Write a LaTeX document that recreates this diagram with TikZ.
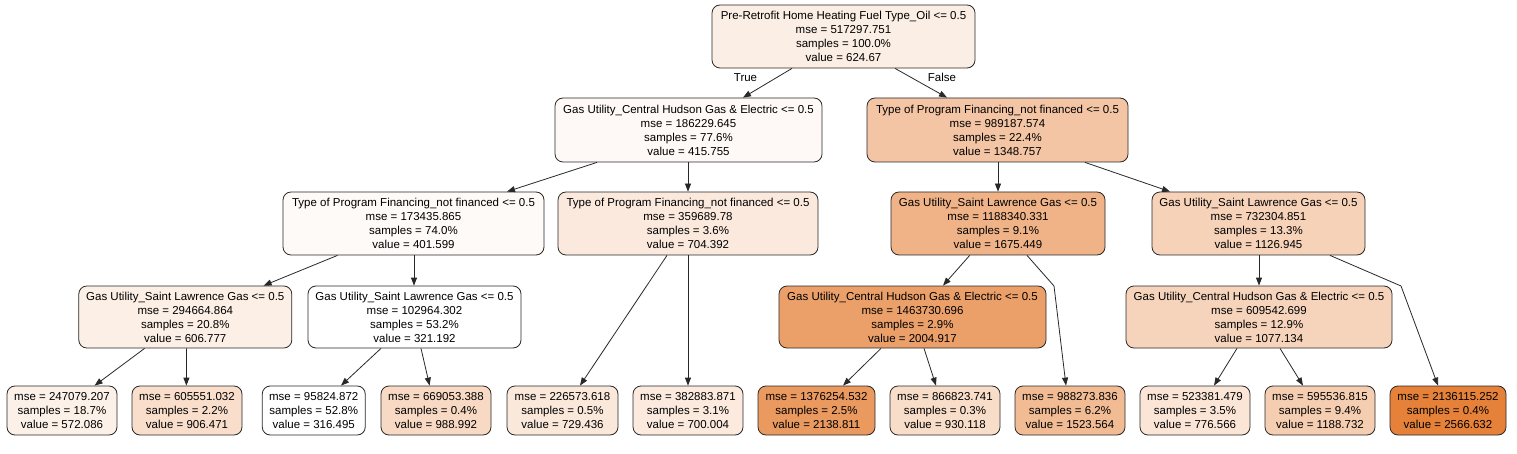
\documentclass[tikz,border=0pt]{standalone}
\usepackage{fontspec}
\setmainfont{Liberation Sans}
\usetikzlibrary{arrows.meta}
\definecolor{edgec}{RGB}{40,40,40}
\definecolor{c0}{RGB}{251,238,228}
\definecolor{c1}{RGB}{254,249,246}
\definecolor{c2}{RGB}{243,197,164}
\definecolor{c3}{RGB}{254,250,248}
\definecolor{c4}{RGB}{251,233,221}
\definecolor{c5}{RGB}{239,179,135}
\definecolor{c6}{RGB}{246,210,184}
\definecolor{c7}{RGB}{252,239,229}
\definecolor{c8}{RGB}{255,255,255}
\definecolor{c9}{RGB}{235,160,106}
\definecolor{c10}{RGB}{246,212,188}
\definecolor{c11}{RGB}{252,241,232}
\definecolor{c12}{RGB}{248,222,203}
\definecolor{c13}{RGB}{255,255,255}
\definecolor{c14}{RGB}{247,217,196}
\definecolor{c15}{RGB}{250,232,219}
\definecolor{c16}{RGB}{251,234,221}
\definecolor{c17}{RGB}{234,153,95}
\definecolor{c18}{RGB}{248,221,201}
\definecolor{c19}{RGB}{241,187,148}
\definecolor{c20}{RGB}{250,229,215}
\definecolor{c21}{RGB}{245,206,178}
\definecolor{c22}{RGB}{229,129,57}
\tikzset{
  tn/.style={draw=edgec, line width=0.8pt, rounded corners=8pt, rectangle,
    inner sep=0pt, align=center, font=\fontsize{11.5}{14}\selectfont,
    minimum height=63pt},
  lf/.style={tn, minimum height=49pt},
  ed/.style={draw=edgec, line width=0.8pt, -{Triangle[length=8pt,width=6pt]}},
  lbl/.style={font=\fontsize{11.5}{14}\selectfont, inner sep=0pt},
}
\begin{document}
\begin{tikzpicture}[x=1pt,y=-1pt]
\useasboundingbox[fill=white] (0,0) rectangle (1517,454);
% level 0
\node[tn, fill=c0, minimum width=263pt] (root) at (843.5,36.5) {Pre-Retrofit Home Heating Fuel Type\_Oil <= 0.5\\mse = 517297.751\\samples = 100.0\%\\value = 624.67};
% level 1
\node[tn, fill=c1, minimum width=267pt, minimum height=64pt] (n1) at (688.5,130) {Gas Utility\_Central Hudson Gas \& Electric <= 0.5\\mse = 186229.645\\samples = 77.6\%\\value = 415.755};
\node[tn, fill=c2, minimum width=261pt, minimum height=64pt] (n2) at (997.5,130) {Type of Program Financing\_not financed <= 0.5\\mse = 989187.574\\samples = 22.4\%\\value = 1348.757};
% level 2
\node[tn, fill=c3, minimum width=261pt] (a) at (413.5,223.5) {Type of Program Financing\_not financed <= 0.5\\mse = 173435.865\\samples = 74.0\%\\value = 401.599};
\node[tn, fill=c4, minimum width=260pt] (b) at (688,223.5) {Type of Program Financing\_not financed <= 0.5\\mse = 359689.78\\samples = 3.6\%\\value = 704.392};
\node[tn, fill=c5, minimum width=214pt] (c) at (998,223.5) {Gas Utility\_Saint Lawrence Gas <= 0.5\\mse = 1188340.331\\samples = 9.1\%\\value = 1675.449};
\node[tn, fill=c6, minimum width=213pt] (d) at (1258.5,223.5) {Gas Utility\_Saint Lawrence Gas <= 0.5\\mse = 732304.851\\samples = 13.3\%\\value = 1126.945};
% level 3
\node[tn, fill=c7, minimum width=213pt, minimum height=62pt] (aa) at (185.3,317) {Gas Utility\_Saint Lawrence Gas <= 0.5\\mse = 294664.864\\samples = 20.8\%\\value = 606.777};
\node[tn, fill=c8, minimum width=213pt, minimum height=62pt] (ab) at (414.5,317) {Gas Utility\_Saint Lawrence Gas <= 0.5\\mse = 102964.302\\samples = 53.2\%\\value = 321.192};
\node[tn, fill=c9, minimum width=267pt, minimum height=62pt] (ca) at (912.5,317) {Gas Utility\_Central Hudson Gas \& Electric <= 0.5\\mse = 1463730.696\\samples = 2.9\%\\value = 2004.917};
\node[tn, fill=c10, minimum width=266pt, minimum height=62pt] (da) at (1259,317) {Gas Utility\_Central Hudson Gas \& Electric <= 0.5\\mse = 609542.699\\samples = 12.9\%\\value = 1077.134};
% leaves
\node[lf, fill=c11, minimum width=110pt] (l1) at (62,410.5) {mse = 247079.207\\samples = 18.7\%\\value = 572.086};
\node[lf, fill=c12, minimum width=110pt] (l2) at (187,410.5) {mse = 605551.032\\samples = 2.2\%\\value = 906.471};
\node[lf, fill=c13, minimum width=103pt] (l3) at (313.75,410.5) {mse = 95824.872\\samples = 52.8\%\\value = 316.495};
\node[lf, fill=c14, minimum width=110pt] (l4) at (436,410.5) {mse = 669053.388\\samples = 0.4\%\\value = 988.992};
\node[lf, fill=c15, minimum width=111pt] (l5) at (562.5,410.5) {mse = 226573.618\\samples = 0.5\%\\value = 729.436};
\node[lf, fill=c16, minimum width=110pt] (l6) at (688,410.5) {mse = 382883.871\\samples = 3.1\%\\value = 700.004};
\node[lf, fill=c17, minimum width=117pt] (l7) at (816.5,410.5) {mse = 1376254.532\\samples = 2.5\%\\value = 2138.811};
\node[lf, fill=c18, minimum width=110pt] (l8) at (945,410.5) {mse = 866823.741\\samples = 0.3\%\\value = 930.118};
\node[lf, fill=c19, minimum width=110pt] (l9) at (1070,410.5) {mse = 988273.836\\samples = 6.2\%\\value = 1523.564};
\node[lf, fill=c20, minimum width=110pt] (l10) at (1195,410.5) {mse = 523381.479\\samples = 3.5\%\\value = 776.566};
\node[lf, fill=c21, minimum width=110pt] (l11) at (1320,410.5) {mse = 595536.815\\samples = 9.4\%\\value = 1188.732};
\node[lf, fill=c22, minimum width=116pt] (l12) at (1448,410.5) {mse = 2136115.252\\samples = 0.4\%\\value = 2566.632};
% bend points
\coordinate (bc) at (1054,286);
\coordinate (bd) at (1401,286);
% labels
\node[lbl] (tl) at (745.5,77.5) {True};
\node[lbl] (fl) at (942,77.5) {False};
% edges
\draw[ed] ([xshift=-51.5pt]root.south) -- ([xshift=54.5pt]n1.north);
\draw[ed] ([xshift=51.5pt]root.south) -- ([xshift=-50.5pt]n2.north);
\draw[ed] ([xshift=-91.5pt]n1.south) -- ([xshift=93.5pt]a.north);
\draw[ed] ([xshift=-0.5pt]n1.south) -- (b.north);
\draw[ed] ([xshift=0.5pt]n2.south) -- (c.north);
\draw[ed] ([xshift=87.5pt]n2.south) -- ([xshift=-88.5pt]d.north);
\draw[ed] ([xshift=-76pt]a.south) -- ([xshift=78.3pt]aa.north);
\draw[ed] ([xshift=0.5pt]a.south) -- ([xshift=-0.5pt]ab.north);
\draw[ed] ([xshift=-21pt]b.south) -- ([xshift=17.5pt]l5.north);
\draw[ed] (b.south) -- (l6.north);
\draw[ed] ([xshift=-28.3pt]c.south) -- ([xshift=30.5pt]ca.north);
\draw[ed] ([xshift=29pt]c.south) -- (bc) -- ([xshift=-4pt]l9.north);
\draw[ed] ([xshift=0.5pt]d.south) -- (da.north);
\draw[ed] ([xshift=71.5pt]d.south) -- (bd) -- ([xshift=-10pt]l12.north);
\draw[ed] ([xshift=-40.7pt]aa.south) -- ([xshift=32.6pt]l1.north);
\draw[ed] ([xshift=1.1pt]aa.south) -- ([xshift=-0.6pt]l2.north);
\draw[ed] ([xshift=-33.5pt]ab.south) -- ([xshift=27.25pt]l3.north);
\draw[ed] ([xshift=6.5pt]ab.south) -- ([xshift=-6.4pt]l4.north);
\draw[ed] ([xshift=-31.5pt]ca.south) -- ([xshift=26.5pt]l7.north);
\draw[ed] ([xshift=11.5pt]ca.south) -- ([xshift=-9pt]l8.north);
\draw[ed] ([xshift=-22pt]da.south) -- ([xshift=19pt]l10.north);
\draw[ed] ([xshift=21pt]da.south) -- ([xshift=-17pt]l11.north);
\end{tikzpicture}
\end{document}
